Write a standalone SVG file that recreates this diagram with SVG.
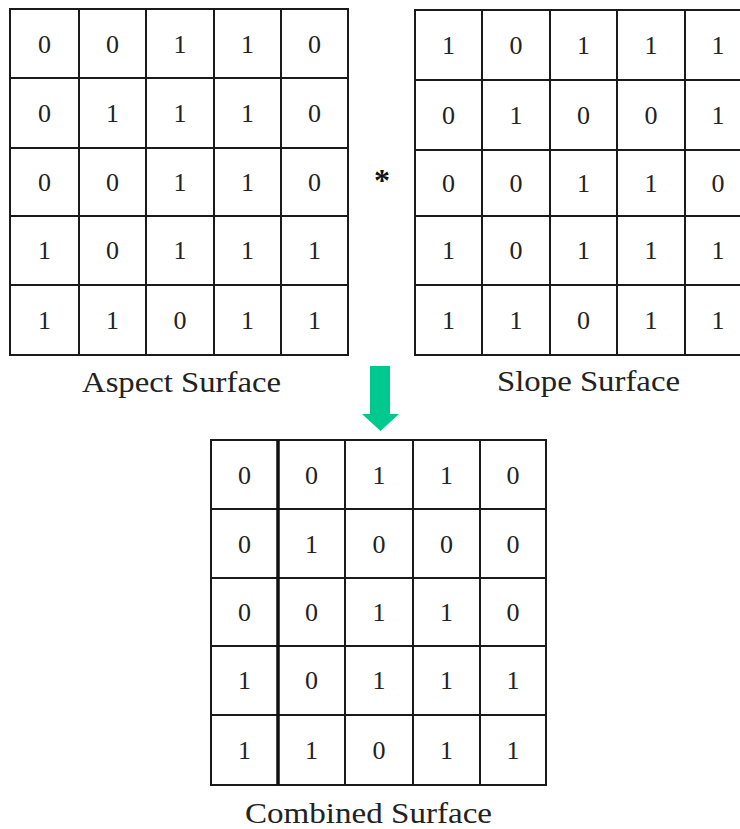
<svg xmlns="http://www.w3.org/2000/svg" width="740" height="829" viewBox="0 0 740 829">
<style>
.g{fill:none;stroke:#1a1a1a;stroke-width:2}
.d{font-family:"Liberation Serif","Times New Roman",serif;font-size:26px;fill:#222;text-anchor:middle}
.lbl{font-family:"Liberation Serif","Times New Roman",serif;font-size:30px;fill:#222;text-anchor:middle}
</style>
<rect width="740" height="829" fill="#fff"/>
<g id="aspect">
<rect class="g" x="10" y="9" width="338" height="346"/>
<path class="g" d="M79 9V355M146 9V355M214 9V355M281 9V355M10 78H348M10 148H348M10 216H348M10 285H348"/>
<g class="d">
<text x="44.5" y="53">0</text><text x="112.5" y="53">0</text><text x="180" y="53">1</text><text x="247.5" y="53">1</text><text x="314.5" y="53">0</text>
<text x="44.5" y="122">0</text><text x="112.5" y="122">1</text><text x="180" y="122">1</text><text x="247.5" y="122">1</text><text x="314.5" y="122">0</text>
<text x="44.5" y="191">0</text><text x="112.5" y="191">0</text><text x="180" y="191">1</text><text x="247.5" y="191">1</text><text x="314.5" y="191">0</text>
<text x="44.5" y="259">1</text><text x="112.5" y="259">0</text><text x="180" y="259">1</text><text x="247.5" y="259">1</text><text x="314.5" y="259">1</text>
<text x="44.5" y="329">1</text><text x="112.5" y="329">1</text><text x="180" y="329">0</text><text x="247.5" y="329">1</text><text x="314.5" y="329">1</text>
</g>
<text class="lbl" x="181.5" y="392" textLength="199" lengthAdjust="spacingAndGlyphs">Aspect Surface</text>
</g>
<g id="slope">
<rect class="g" x="415" y="10" width="337" height="345"/>
<path class="g" d="M482 10V355M550 10V355M617 10V355M685 10V355M415 80H752M415 150H752M415 216H752M415 285H752"/>
<g class="d">
<text x="448.5" y="54">1</text><text x="516" y="54">0</text><text x="583.5" y="54">1</text><text x="651" y="54">1</text><text x="718" y="54">1</text>
<text x="448.5" y="124">0</text><text x="516" y="124">1</text><text x="583.5" y="124">0</text><text x="651" y="124">0</text><text x="718" y="124">1</text>
<text x="448.5" y="192">0</text><text x="516" y="192">0</text><text x="583.5" y="192">1</text><text x="651" y="192">1</text><text x="718" y="192">0</text>
<text x="448.5" y="259">1</text><text x="516" y="259">0</text><text x="583.5" y="259">1</text><text x="651" y="259">1</text><text x="718" y="259">1</text>
<text x="448.5" y="329">1</text><text x="516" y="329">1</text><text x="583.5" y="329">0</text><text x="651" y="329">1</text><text x="718" y="329">1</text>
</g>
<text class="lbl" x="588.5" y="391" textLength="183" lengthAdjust="spacingAndGlyphs">Slope Surface</text>
</g>
<g id="operator">
<text x="382" y="191" style="font-family:'Liberation Serif',serif;font-size:32px;font-weight:bold;fill:#111;text-anchor:middle">*</text>
</g>
<g id="connectors">
<polygon points="370,366 390,366 390,414 399,414 380.5,431 362,414 370,414" fill="#00c98f"/>
</g>
<g id="combined">
<rect class="g" x="211" y="440" width="335" height="345"/>
<path class="g" d="M345 440V785M413 440V785M480 440V785M211 509H546M211 578H546M211 646H546M211 715H546"/>
<path d="M278 440V785" stroke="#111" stroke-width="3.5"/>
<g class="d">
<text x="244.5" y="484">0</text><text x="311.5" y="484">0</text><text x="379" y="484">1</text><text x="446.5" y="484">1</text><text x="513" y="484">0</text>
<text x="244.5" y="553">0</text><text x="311.5" y="553">1</text><text x="379" y="553">0</text><text x="446.5" y="553">0</text><text x="513" y="553">0</text>
<text x="244.5" y="621">0</text><text x="311.5" y="621">0</text><text x="379" y="621">1</text><text x="446.5" y="621">1</text><text x="513" y="621">0</text>
<text x="244.5" y="689">1</text><text x="311.5" y="689">0</text><text x="379" y="689">1</text><text x="446.5" y="689">1</text><text x="513" y="689">1</text>
<text x="244.5" y="759">1</text><text x="311.5" y="759">1</text><text x="379" y="759">0</text><text x="446.5" y="759">1</text><text x="513" y="759">1</text>
</g>
<text class="lbl" x="368.5" y="823" textLength="247" lengthAdjust="spacingAndGlyphs">Combined Surface</text>
</g>
</svg>
